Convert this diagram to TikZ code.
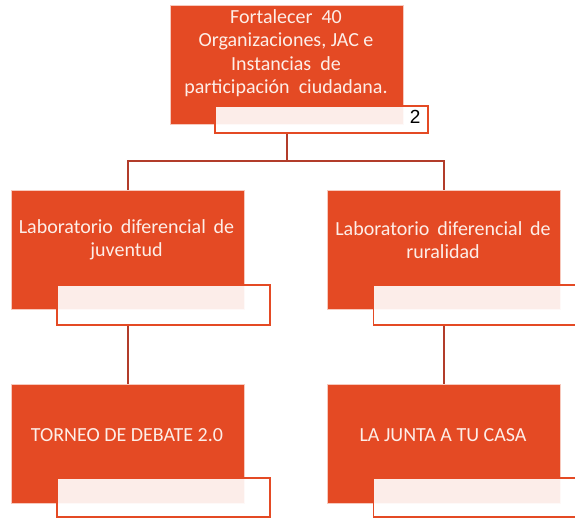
\documentclass[tikz,border=0pt]{standalone}
\usepackage{fontspec}
\setmainfont{Carlito}
\newfontfamily\numfont{Liberation Sans}
\usetikzlibrary{calc}
\definecolor{boxfill}{RGB}{228,74,36}
\definecolor{linkcol}{RGB}{178,60,42}
\definecolor{labeltext}{RGB}{253,238,232}

\begin{document}
\begin{tikzpicture}[x=1pt,y=1pt,
  mainbox/.style={rectangle,fill=boxfill,draw=white!70!boxfill,line width=0.6pt,minimum width=233pt,minimum height=119pt,inner sep=0pt},
  subbox/.style={rectangle,fill=white,fill opacity=0.9,draw=boxfill,line width=1.8pt,minimum width=213pt,minimum height=40pt,inner sep=0pt},
  boxlabel/.style={text=labeltext,align=center,font=\fontsize{20}{23.5}\selectfont},
  link/.style={linkcol,line width=2pt}]
\useasboundingbox (0,0) rectangle (575,-519);
% top level
\node[mainbox] (top) at (286.5,-65) {};
\node[boxlabel] (toptext) at (286,-53) {Fortalecer\ \ 40\\Organizaciones, JAC\ e\\Instancias\ \ de\\participación\ \ ciudadana.};
\node[subbox,minimum height=27pt] (sub0) at (321.5,-119.5) {};
\node[anchor=east,font=\numfont\fontsize{19}{19}\selectfont] (num) at ([xshift=-5pt,yshift=3pt]sub0.east) {2};
% second level
\node[mainbox] (lab1) at (127.5,-249.5) {};
\node[boxlabel] (lab1text) at (126.5,-240) {Laboratorio\ \,diferencial\ \,de\\juventud};
\node[subbox] (sub1) at (163.5,-305) {};
\node[mainbox] (lab2) at (444,-249.5) {};
\node[boxlabel] (lab2text) at (443,-240) {Laboratorio\ \,diferencial\ \,de\\ruralidad};
\node[subbox] (sub2) at (480,-305) {};
% third level
\node[mainbox] (deb) at (127.5,-443.5) {};
\node[boxlabel] (debtext) at (127,-435) {TORNEO DE DEBATE 2.0};
\node[subbox,minimum height=39pt] (sub3) at (163.5,-497.5) {};
\node[mainbox] (casa) at (444,-443.5) {};
\node[boxlabel] (casatext) at (443,-435) {LA JUNTA A TU CASA};
\node[subbox,minimum height=39pt] (sub4) at (480,-497.5) {};
% connectors
\coordinate (fork) at (286.5,-161);
\draw[link] (sub0.south -| top.south) -- (fork);
\draw[link] (fork) -| (lab1.north);
\draw[link] (fork) -| (lab2.north);
\draw[link] (sub1.south -| lab1.south) -- (deb.north);
\draw[link] (sub2.south -| lab2.south) -- (casa.north);
\end{tikzpicture}
\end{document}
